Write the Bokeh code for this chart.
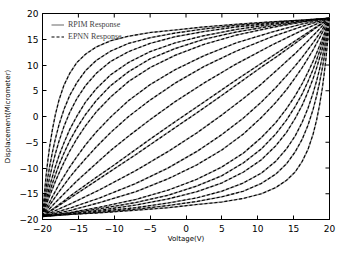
from bokeh.plotting import figure
from bokeh.models import Legend, LegendItem, FixedTicker
from bokeh.embed import file_html
from bokeh.resources import INLINE

# Voltage sample points (V) for the rising (upper) and falling (lower) branches
volt_up = [-20, -19.75, -19.5, -19.25, -19, -18.6, -18.2, -17.7, -17, -16.2, -15.2, -14, -12.5,
           -10.5, -8, -5, -1.5, 2.5, 7, 12, 16, 20]
volt_down = [20, 19.75, 19.5, 19.25, 19, 18.6, 18.2, 17.7, 17, 16.2, 15.2, 14, 12.5,
             10.5, 8, 5, 1.5, -2.5, -7, -12, -16, -20]

# Displacement (micrometer), innermost loop (01) to outermost loop (10)
loop01_up = [-19.4, -19.1, -18.9, -18.6, -18.4, -18.0, -17.6, -17.1, -16.4, -15.5, -14.5, -13.3, -11.8, -9.9, -7.4, -4.4, -1.0, 2.8, 7.1, 11.7, 15.4, 19.1]
loop01_down = [19.1, 18.8, 18.6, 18.3, 18.1, 17.7, 17.3, 16.8, 16.1, 15.2, 14.2, 13.0, 11.5, 9.6, 7.1, 4.1, 0.7, -3.1, -7.4, -12.0, -15.7, -19.4]
loop02_up = [-19.4, -19.0, -18.6, -18.3, -17.9, -17.3, -16.7, -16.0, -15.0, -13.9, -12.5, -11.0, -9.1, -6.6, -3.8, -0.6, 2.9, 6.5, 10.2, 13.9, 16.6, 19.1]
loop02_down = [19.1, 18.7, 18.3, 18.0, 17.6, 17.0, 16.4, 15.7, 14.7, 13.6, 12.2, 10.7, 8.8, 6.3, 3.5, 0.3, -3.2, -6.8, -10.5, -14.2, -16.9, -19.4]
loop03_up = [-19.4, -18.8, -18.3, -17.8, -17.2, -16.4, -15.6, -14.6, -13.3, -11.8, -10.1, -8.2, -5.9, -3.1, 0.0, 3.2, 6.5, 9.7, 12.7, 15.5, 17.4, 19.1]
loop03_down = [19.1, 18.5, 18.0, 17.5, 16.9, 16.1, 15.3, 14.3, 13.0, 11.5, 9.8, 7.9, 5.6, 2.8, -0.3, -3.5, -6.8, -10.0, -13.0, -15.8, -17.7, -19.4]
loop04_up = [-19.4, -18.7, -17.9, -17.2, -16.6, -15.5, -14.5, -13.2, -11.6, -9.8, -7.8, -5.5, -3.0, -0.1, 3.1, 6.2, 9.1, 11.8, 14.3, 16.4, 17.9, 19.1]
loop04_down = [19.1, 18.4, 17.6, 16.9, 16.3, 15.2, 14.2, 12.9, 11.3, 9.5, 7.5, 5.2, 2.7, -0.2, -3.4, -6.5, -9.4, -12.1, -14.6, -16.7, -18.2, -19.4]
loop05_up = [-19.4, -18.3, -17.3, -16.3, -15.4, -14.0, -12.6, -11.0, -8.9, -6.7, -4.3, -1.8, 0.9, 3.8, 6.8, 9.5, 11.9, 14.0, 15.8, 17.3, 18.3, 19.1]
loop05_down = [19.1, 18.0, 17.0, 16.0, 15.1, 13.7, 12.3, 10.7, 8.6, 6.4, 4.0, 1.5, -1.2, -4.1, -7.1, -9.8, -12.2, -14.3, -16.1, -17.6, -18.6, -19.4]
loop06_up = [-19.4, -18.1, -16.9, -15.7, -14.6, -12.9, -11.3, -9.4, -7.1, -4.7, -2.2, 0.4, 3.1, 6.0, 8.7, 11.2, 13.2, 15.0, 16.4, 17.6, 18.4, 19.1]
loop06_down = [19.1, 17.8, 16.6, 15.4, 14.3, 12.6, 11.0, 9.1, 6.8, 4.4, 1.9, -0.7, -3.4, -6.3, -9.0, -11.5, -13.5, -15.3, -16.7, -17.9, -18.7, -19.4]
loop07_up = [-19.4, -17.8, -16.3, -14.9, -13.5, -11.6, -9.7, -7.6, -5.1, -2.5, 0.1, 2.8, 5.4, 8.1, 10.5, 12.6, 14.3, 15.7, 16.9, 17.9, 18.5, 19.1]
loop07_down = [19.1, 17.5, 16.0, 14.6, 13.2, 11.3, 9.4, 7.3, 4.8, 2.2, -0.4, -3.1, -5.7, -8.4, -10.8, -12.9, -14.6, -16.0, -17.2, -18.2, -18.8, -19.4]
loop08_up = [-19.4, -17.3, -15.3, -13.5, -11.8, -9.4, -7.2, -4.8, -1.9, 0.8, 3.5, 6.0, 8.4, 10.7, 12.6, 14.2, 15.5, 16.5, 17.4, 18.1, 18.6, 19.1]
loop08_down = [19.1, 17.0, 15.0, 13.2, 11.5, 9.1, 6.9, 4.5, 1.6, -1.1, -3.8, -6.3, -8.7, -11.0, -12.9, -14.5, -15.8, -16.8, -17.7, -18.4, -18.9, -19.4]
loop09_up = [-19.4, -16.6, -14.0, -11.7, -9.7, -6.8, -4.3, -1.6, 1.4, 4.1, 6.6, 8.9, 10.9, 12.7, 14.2, 15.3, 16.2, 17.0, 17.7, 18.3, 18.7, 19.1]
loop09_down = [19.1, 16.3, 13.7, 11.4, 9.4, 6.5, 4.0, 1.3, -1.7, -4.4, -6.9, -9.2, -11.2, -13.0, -14.5, -15.6, -16.5, -17.3, -18.0, -18.6, -19.0, -19.4]
loop10_up = [-19.4, -15.1, -11.5, -8.5, -5.8, -2.4, 0.4, 3.2, 6.1, 8.4, 10.5, 12.1, 13.5, 14.7, 15.6, 16.3, 16.8, 17.4, 17.9, 18.4, 18.7, 19.1]
loop10_down = [19.1, 14.8, 11.2, 8.2, 5.5, 2.1, -0.7, -3.5, -6.4, -8.7, -10.8, -12.4, -13.8, -15.0, -15.9, -16.6, -17.1, -17.7, -18.2, -18.7, -19.0, -19.4]

branches_up = [loop01_up, loop02_up, loop03_up, loop04_up, loop05_up,
               loop06_up, loop07_up, loop08_up, loop09_up, loop10_up]
branches_down = [loop01_down, loop02_down, loop03_down, loop04_down, loop05_down,
                 loop06_down, loop07_down, loop08_down, loop09_down, loop10_down]

ticks = [-20, -15, -10, -5, 0, 5, 10, 15, 20]
tick_labels = ["\u221220", "\u221215", "\u221210", "\u22125", "0", "5", "10", "15", "20"]
series_names = ["RPIM Response", "EPNN Response"]

p = figure(frame_width=287, frame_height=206, x_range=(-20, 20), y_range=(-20, 20),
           output_backend="svg", toolbar_location=None,
           min_border_left=41, min_border_top=13, min_border_right=12, min_border_bottom=33)
p.grid.visible = False
p.outline_line_color = "black"
p.outline_line_width = 1

for ax in (p.xaxis[0], p.yaxis[0]):
    ax.ticker = FixedTicker(ticks=ticks)
    ax.major_label_overrides = dict(zip(ticks, tick_labels))
    ax.major_tick_in = 4
    ax.major_tick_out = 0
    ax.minor_tick_line_color = None
    ax.axis_line_color = "black"
    ax.major_tick_line_color = "black"
    ax.major_label_text_font = "DejaVu Sans"
    ax.major_label_text_font_size = "9px"
    ax.major_label_text_color = "black"
    ax.axis_label_text_font = "DejaVu Sans"
    ax.axis_label_text_font_size = "7px"
    ax.axis_label_text_font_style = "normal"
    ax.axis_label_text_color = "black"
p.xaxis.axis_label = "Voltage(V)"
p.yaxis.axis_label = "Displacement(Micrometer)"
p.xaxis.major_label_standoff = 5
p.xaxis.axis_label_standoff = 0
p.yaxis.major_label_standoff = 4
p.yaxis.axis_label_standoff = 5

# inward ticks on the top and right edges of the frame
p.segment(x0=ticks, y0=[20] * len(ticks), x1=ticks, y1=[19.22] * len(ticks), line_color="black", line_width=1)
p.segment(x0=[20] * len(ticks), y0=ticks, x1=[19.44] * len(ticks), y1=ticks, line_color="black", line_width=1)

gray_r = []
dash_r = []
for yu, yd in zip(branches_up, branches_down):
    gray_r.append(p.line(volt_up, yu, line_color="#9a9a9a", line_width=1.5))
    gray_r.append(p.line(volt_down, yd, line_color="#9a9a9a", line_width=1.5))
for yu, yd in zip(branches_up, branches_down):
    dash_r.append(p.line(volt_up, yu, line_color="black", line_width=1.1, line_dash="3 2"))
    dash_r.append(p.line(volt_down, yd, line_color="black", line_width=1.1, line_dash="3 2"))

leg = Legend(items=[LegendItem(label=series_names[0], renderers=[gray_r[0]]),
                    LegendItem(label=series_names[1], renderers=[dash_r[0]])],
             location=(9, 178), margin=0, padding=0, spacing=3,
             glyph_width=13, glyph_height=9, label_height=9, label_standoff=4,
             label_text_font="Liberation Serif", label_text_font_size="8px",
             background_fill_alpha=0, border_line_alpha=0)
p.add_layout(leg)

open("out.html", "w").write(file_html(p, INLINE))
